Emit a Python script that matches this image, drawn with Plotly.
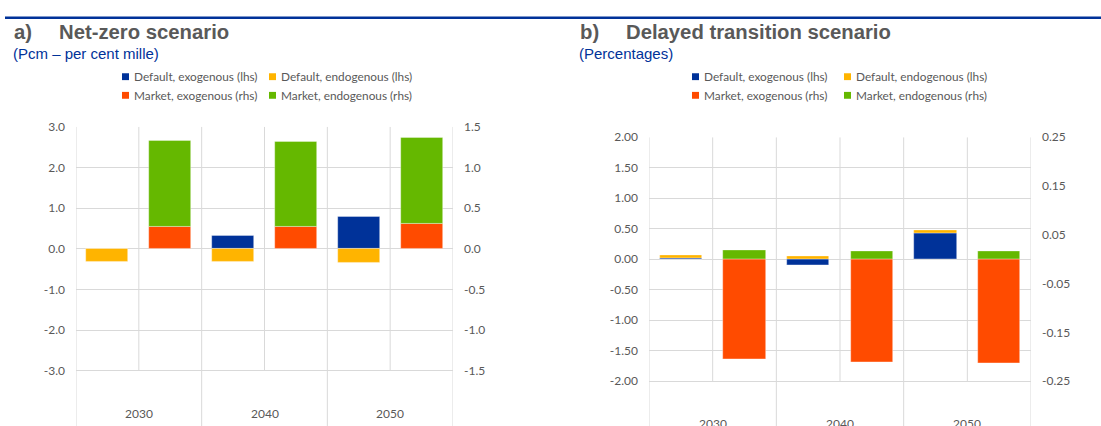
import plotly.graph_objects as go

# categories and series
years = ["2030", "2040", "2050"]
series_names = ["Default, exogenous (lhs)", "Default, endogenous (lhs)",
                "Market, exogenous (rhs)", "Market, endogenous (rhs)"]
colors = ["#003299", "#FFB400", "#FF4B00", "#65B800"]

# a) Net-zero scenario (pcm)
nz_default_exo = [0.01, 0.33, 0.79]
nz_default_endo = [-0.32, -0.33, -0.34]
nz_market_exo = [0.27, 0.265, 0.305]
nz_market_endo = [1.055, 1.055, 1.055]

# b) Delayed transition scenario (percentages)
dt_default_exo = [0.01, -0.10, 0.42]
dt_default_endo = [0.055, 0.045, 0.06]
dt_market_exo = [-0.205, -0.21, -0.2125]
dt_market_endo = [0.018, 0.017, 0.016]

# tick values
a_lhs_ticks = [-3, -2, -1, 0, 1, 2, 3]
a_rhs_ticks = [-1.5, -1.0, -0.5, 0, 0.5, 1.0, 1.5]
b_lhs_ticks = [-2, -1.5, -1, -0.5, 0, 0.5, 1, 1.5, 2]
b_rhs_ticks = [-0.25, -0.15, -0.05, 0.05, 0.15, 0.25]

W, H = 1101, 426
GRID = "#D9D9D9"
TXT = "#595959"
BLUE = "#003299"
FONT = "Lato"

x_def = [2 * i for i in range(len(years))]
x_mkt = [2 * i + 1 for i in range(len(years))]

fig = go.Figure()


def add_bars(xs, vals, name, color, xa, ya):
    fig.add_trace(go.Bar(x=xs, y=vals, name=name, width=0.67,
                         marker=dict(color=color, line=dict(width=0.6, color="rgba(255,255,255,0.6)")),
                         xaxis=xa, yaxis=ya, showlegend=False))


def fmt(vals, d):
    # plain hyphen for negatives, like the source
    return [f"{v:.{d}f}" for v in vals]


add_bars(x_def, nz_default_exo, series_names[0], colors[0], "x", "y")
add_bars(x_def, nz_default_endo, series_names[1], colors[1], "x", "y")
add_bars(x_mkt, nz_market_exo, series_names[2], colors[2], "x", "y2")
add_bars(x_mkt, nz_market_endo, series_names[3], colors[3], "x", "y2")

add_bars(x_def, dt_default_exo, series_names[0], colors[0], "x2", "y3")
add_bars(x_def, dt_default_endo, series_names[1], colors[1], "x2", "y3")
add_bars(x_mkt, dt_market_exo, series_names[2], colors[2], "x2", "y4")
add_bars(x_mkt, dt_market_endo, series_names[3], colors[3], "x2", "y4")

tickfont = dict(family=FONT, size=12, color=TXT)

# panel geometry (pixels of the reference)
a_left, a_right, a_top = 76, 453, 121
b_left, b_right, b_top = 649, 1031, 131.7
a_range = [-4.36, 3.0]
b_range = [-2.733, 2.0]

ax_common = dict(showgrid=False, zeroline=False, showline=False, ticks="",
                 showticklabels=False, range=[-0.5, 5.5], fixedrange=True)

fig.update_layout(
    width=W, height=H, margin=dict(l=0, r=0, t=0, b=0),
    paper_bgcolor="white", plot_bgcolor="white",
    barmode="relative", bargap=0,
    xaxis=dict(domain=[a_left / W, a_right / W], anchor="y", **ax_common),
    xaxis2=dict(domain=[b_left / W, b_right / W], anchor="y3", **ax_common),
    yaxis=dict(domain=[0, 1 - a_top / H], anchor="x", range=a_range,
               tickvals=a_lhs_ticks, ticktext=fmt(a_lhs_ticks, 1),
               showgrid=True, gridcolor=GRID, gridwidth=1, zeroline=False,
               tickfont=tickfont, ticklabelstandoff=10),
    yaxis2=dict(overlaying="y", side="right", anchor="x",
                range=[a_range[0] / 2, a_range[1] / 2],
                tickvals=a_rhs_ticks, ticktext=fmt(a_rhs_ticks, 1),
                showgrid=False, zeroline=False, tickfont=tickfont, ticklabelstandoff=10),
    yaxis3=dict(domain=[0, 1 - b_top / H], anchor="x2", range=b_range,
                tickvals=b_lhs_ticks, ticktext=fmt(b_lhs_ticks, 2),
                showgrid=True, gridcolor=GRID, gridwidth=1, zeroline=False,
                tickfont=tickfont, ticklabelstandoff=10),
    yaxis4=dict(overlaying="y3", side="right", anchor="x2",
                range=[b_range[0] / 8, b_range[1] / 8],
                tickvals=b_rhs_ticks, ticktext=fmt(b_rhs_ticks, 2),
                showgrid=False, zeroline=False, tickfont=tickfont, ticklabelstandoff=10),
    showlegend=False,
)

shapes = []
# vertical category / sub-category lines
for xa, ya, lo, top, inner_lo in [("x", "y", a_range[0], 3.0, -3.0),
                                   ("x2", "y3", b_range[0], 2.0, -2.0)]:
    for xv in [-0.5, 1.5, 3.5, 5.5]:
        shapes.append(dict(type="line", xref=xa, yref=ya, x0=xv, x1=xv, y0=lo, y1=top,
                           line=dict(color=GRID, width=1), layer="below"))
    for xv in [0.5, 2.5, 4.5]:
        shapes.append(dict(type="line", xref=xa, yref=ya, x0=xv, x1=xv, y0=inner_lo, y1=top,
                           line=dict(color=GRID, width=1), layer="below"))

# top rule
shapes.append(dict(type="line", xref="paper", yref="paper", x0=5 / W, x1=1,
                   y0=1 - 10 / H, y1=1 - 10 / H, line=dict(color=BLUE, width=2.5)))

annotations = []
# category labels
for i, yr in enumerate(years):
    annotations.append(dict(x=2 * i + 0.5, y=-4.05, xref="x", yref="y", text=yr,
                            showarrow=False, font=tickfont))
    annotations.append(dict(x=2 * i + 0.5, y=-2.685, xref="x2", yref="y3", text=yr,
                            showarrow=False, font=tickfont))


def px_x(v):
    return v / W


def px_y(v):
    return 1 - v / H


# titles
title_font = dict(family="Liberation Sans", size=20.3, color=TXT)
sub_font = dict(family="Liberation Sans", size=15, color=BLUE)
for lab, lx, title, tx, sub in [("<b>a)</b>", 12, "<b>Net-zero scenario</b>", 57, "(Pcm – per cent mille)"),
                                ("<b>b)</b>", 578, "<b>Delayed transition scenario</b>", 624, "(Percentages)")]:
    annotations.append(dict(x=px_x(lx), y=px_y(24), xref="paper", yref="paper", text=lab,
                            xanchor="left", yanchor="middle", showarrow=False, font=title_font))
    annotations.append(dict(x=px_x(tx), y=px_y(24), xref="paper", yref="paper", text=title,
                            xanchor="left", yanchor="middle", showarrow=False, font=title_font))
    annotations.append(dict(x=px_x(lx - 1), y=px_y(46), xref="paper", yref="paper", text=sub,
                            xanchor="left", yanchor="middle", showarrow=False, font=sub_font))

# legends (2 x 2)
leg_font = dict(family=FONT, size=11.8, color=TXT)
leg_rows = [70, 89]
for cols in [(122, 269), (692, 844)]:
    for k, name in enumerate(series_names):
        cx = cols[k % 2]
        cy = leg_rows[k // 2]
        shapes.append(dict(type="rect", xref="paper", yref="paper",
                           x0=px_x(cx), x1=px_x(cx + 7), y0=px_y(cy + 3.5), y1=px_y(cy - 3.5),
                           fillcolor=colors[k], line=dict(width=0)))
        annotations.append(dict(x=px_x(cx + 10), y=px_y(cy), xref="paper", yref="paper",
                                text=name, xanchor="left", yanchor="middle",
                                showarrow=False, font=leg_font))

fig.update_layout(shapes=shapes, annotations=annotations)

# the page's default body margin would push the figure off by 8 px
fig.write_html("out.html", config={"displayModeBar": False},
               post_script="document.body.style.margin='0';")
